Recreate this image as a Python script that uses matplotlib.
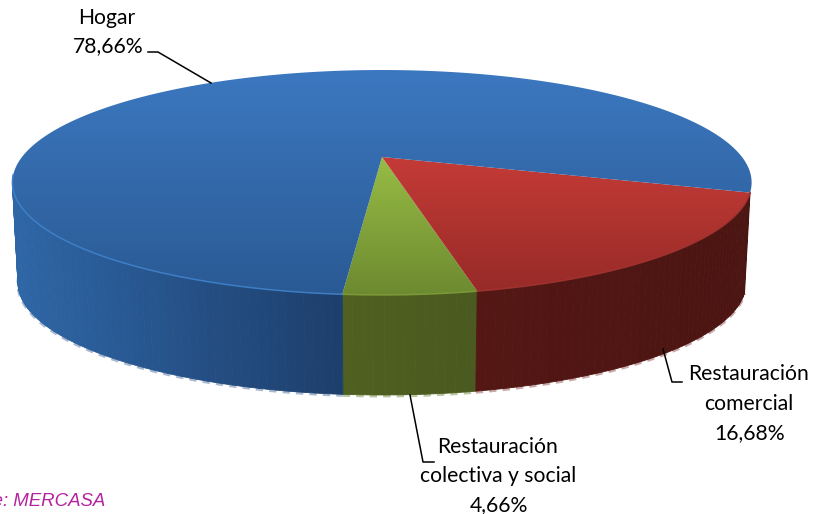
#3D pie chart, consumo por canal (fuente MERCASA)
#drawn on a pixel sized axes, rim comes from a circle pushed through a perspective map

import numpy as np
import matplotlib.pyplot as plt
from matplotlib.patches import Polygon
from matplotlib.colors import to_rgb

# data, in drawing order starting at the front of the pie
categories = ["Restauración\ncolectiva y social", "Restauración\ncomercial", "Hogar"]
shares = [4.66, 16.68, 78.66]
top_colors = [("#97bc45", "#6d8a30"), ("#c43b37", "#962a27"), ("#3c78c0", "#2a5a94")]
side_colors = [("#4f6020", "#4a5a20"), ("#541714", "#4b1512"), ("#2e66a6", "#1d3e6b")]
rim_colors = ["#7f9c38", "#a23230", "#3f82cc"]
dash_colors = ["#b9c6a0", "#c9a8a8", "#a9bad0"]

start_angle = -94.9
cx, cy = 382, 157
a, s, k = 360.0, 106.7, 0.2266
depth = 100


def rim(theta, bottom=False):
    u, v = np.cos(theta), np.sin(theta)
    w = 1 + k * v
    x = a * u / w
    y = s * v / w
    if bottom:
        return cx + x * 0.985, cy - y + depth
    return cx + x, cy - y


def mix(c1, c2, t):
    c1, c2 = np.array(to_rgb(c1)), np.array(to_rgb(c2))
    return tuple(c1 + (c2 - c1) * t)


def on_front(theta, i):
    # hogar only shows its wall on the left, the right end is hidden by comercial
    if i == 2:
        return (np.sin(theta) < -0.15) & (np.cos(theta) < 0.2)
    return np.sin(theta) < -0.15


fig = plt.figure(figsize=(8.14, 5.14), dpi=100)
ax = fig.add_axes([0, 0, 1, 1])
ax.set_xlim(0, 814)
ax.set_ylim(514, 0)
ax.axis("off")

angles = start_angle + np.cumsum([0] + shares) * 3.6

# side wall first, the top surface covers whatever is behind
for i in range(len(shares)):
    t0, t1 = np.radians(angles[i]), np.radians(angles[i + 1])
    n = max(int((t1 - t0) / np.radians(1.2)), 2)
    edges = np.linspace(t0, t1, n + 1)
    for j in range(n):
        th = np.linspace(edges[j], edges[j + 1], 4)
        if not on_front(th[1], i):
            continue
        xt, yt = rim(th)
        xb, yb = rim(th, bottom=True)
        xm = xt.mean()
        if i == 2:
            frac = np.clip((xm - 15) / (343 - 15), 0, 1)
        elif i == 1:
            frac = np.clip((xm - 475) / (750 - 475), 0, 1)
        else:
            frac = np.clip((xm - 343) / (475 - 343), 0, 1)
        col = mix(side_colors[i][0], side_colors[i][1], frac)
        pts = np.r_[np.c_[xt, yt], np.c_[xb, yb][::-1]]
        ax.add_patch(Polygon(pts, closed=True, fc=col, ec=col, lw=0.6, zorder=2))
    # pale broken edge under the wall
    th = np.linspace(t0, t1, 400)
    xb, yb = rim(th, bottom=True)
    yb = np.where(on_front(th, i), yb, np.nan)
    ax.plot(xb, yb + 1, color=dash_colors[i], lw=2.2, ls=(0, (2.4, 2)), zorder=1)

# top surface with vertical gradient, clipped to each slice
grad = np.linspace(0, 1, 256)[:, None]
for i in range(len(shares)):
    th = np.radians(np.linspace(angles[i], angles[i + 1], 400))
    xt, yt = rim(th)
    pts = np.r_[[[cx, cy]], np.c_[xt, yt]]
    poly = Polygon(pts, closed=True, fc="none", ec="none", zorder=3)
    ax.add_patch(poly)
    c1, c2 = np.array(to_rgb(top_colors[i][0])), np.array(to_rgb(top_colors[i][1]))
    y0, y1 = (70, 295) if i == 2 else (157, 295)
    img = (c1 + (c2 - c1) * grad[..., None])
    im = ax.imshow(img, extent=[0, 814, y1, y0], aspect="auto", zorder=3, interpolation="bilinear")
    im.set_clip_path(poly)
    # lit edge along the front
    yr = np.where(on_front(th, i), yt, np.nan)
    ax.plot(xt, yr, color=rim_colors[i], lw=1.1, zorder=4, alpha=0.9)

ax.set_xlim(0, 814)
ax.set_ylim(514, 0)

# leader lines
ax.plot([148, 158, 211], [52, 52, 83], color="black", lw=1.1, zorder=5)
ax.plot([663, 672, 682], [349, 382, 382], color="black", lw=1.1, zorder=5)
ax.plot([410, 423, 434], [395, 462, 462], color="black", lw=1.1, zorder=5)

# labels
label_font = dict(family="Lato", fontsize=15.2, color="black", ha="center", va="center", zorder=6)
pct = [f"{v:.2f}".replace(".", ",") + "%" for v in shares]

ax.text(107, 18, categories[2], **label_font)
ax.text(108, 46, pct[2], **label_font)

l1, l2 = categories[1].split("\n")
ax.text(749, 374, l1, **label_font)
ax.text(749, 404, l2, **label_font)
ax.text(750, 433, pct[1], **label_font)

l1, l2 = categories[0].split("\n")
ax.text(498, 447, l1, **label_font)
ax.text(498, 476, l2, **label_font)
ax.text(499, 505, pct[0], **label_font)

# source note, cut off by the left edge in the original
ax.text(105, 501, "Fuente: MERCASA", family="Liberation Sans", style="italic",
        fontsize=13.4, color="#b5229f", ha="right", va="center", zorder=6, clip_on=False)

fig.savefig("out.png", dpi=100)
